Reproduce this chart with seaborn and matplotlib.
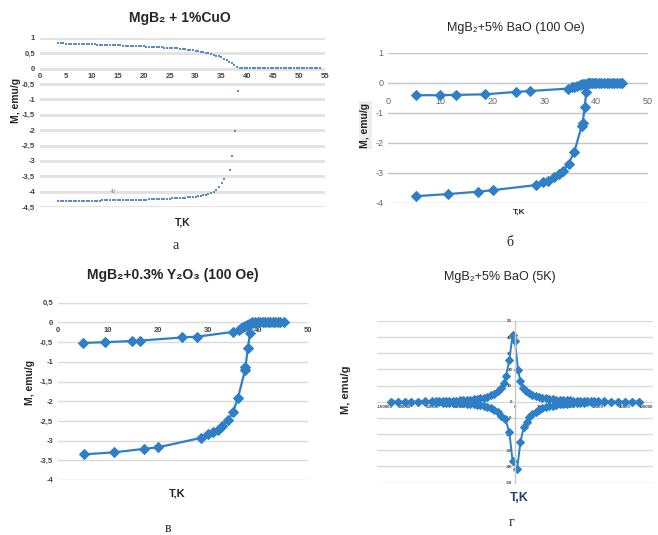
import matplotlib
matplotlib.use('Agg')
import matplotlib.pyplot as plt
import seaborn as sns

# ---- panel a: MgB2 + 1% CuO (FC / ZFC) ----
t_cuo_fc = [3.5, 4.0, 4.5, 5.0, 5.5, 6.0, 6.5, 7.0, 7.5, 8.0, 8.5, 9.0, 9.5, 10.0,
            10.5, 11.0, 11.5, 12.0, 12.5, 13.0, 13.5, 14.0, 14.5, 15.0, 15.5, 16.0,
            16.5, 17.0, 17.5, 18.0, 18.5, 19.0, 19.5, 20.0, 20.5, 21.0, 21.5, 22.0,
            22.5, 23.0, 23.5, 24.0, 24.5, 25.0, 25.5, 26.0, 26.5, 27.0, 27.5, 28.0,
            28.5, 29.0, 29.5, 30.0, 30.5, 31.0, 31.5, 32.0, 32.5, 33.0, 33.5, 34.0,
            34.5, 35.0, 35.5, 36.0, 36.5, 37.0, 37.5, 38.0, 38.5, 39.0, 39.5, 40.0,
            40.5, 41.0, 41.5, 42.0, 42.5, 43.0, 43.5, 44.0, 44.5, 45.0, 45.5, 46.0,
            46.5, 47.0, 47.5, 48.0, 48.5, 49.0, 49.5, 50.0, 50.5, 51.0, 51.5, 52.0,
            52.5, 53.0, 53.5, 54.0]
m_cuo_fc = [0.83, 0.83, 0.83, 0.82, 0.82, 0.82, 0.82, 0.81, 0.81, 0.80, 0.80, 0.80, 0.79, 0.79,
            0.79, 0.78, 0.78, 0.78, 0.77, 0.77, 0.77, 0.77, 0.76, 0.76, 0.76, 0.75,
            0.75, 0.75, 0.74, 0.74, 0.74, 0.73, 0.73, 0.73, 0.72, 0.72, 0.72, 0.71,
            0.71, 0.70, 0.70, 0.69, 0.69, 0.68, 0.68, 0.67, 0.66, 0.65, 0.64, 0.63,
            0.62, 0.61, 0.60, 0.59, 0.57, 0.56, 0.54, 0.52, 0.50, 0.48, 0.46, 0.43,
            0.40, 0.37, 0.33, 0.28, 0.23, 0.17, 0.11, 0.06, 0.03, 0.03, 0.03, 0.03,
            0.03, 0.03, 0.03, 0.03, 0.03, 0.03, 0.03, 0.03, 0.03, 0.03, 0.03, 0.03,
            0.03, 0.03, 0.03, 0.03, 0.03, 0.03, 0.03, 0.03, 0.03, 0.03, 0.03, 0.03,
            0.03, 0.03, 0.03, 0.03]
t_cuo_zfc = [3.5, 4.0, 4.5, 5.0, 5.5, 6.0, 6.5, 7.0, 7.5, 8.0, 8.5, 9.0, 9.5, 10.0,
             10.5, 11.0, 11.5, 12.0, 12.5, 13.0, 13.5, 14.0, 14.5, 15.0, 15.5, 16.0,
             16.5, 17.0, 17.5, 18.0, 18.5, 19.0, 19.5, 20.0, 20.5, 21.0, 21.5, 22.0,
             22.5, 23.0, 23.5, 24.0, 24.5, 25.0, 25.5, 26.0, 26.5, 27.0, 27.5, 28.0,
             28.5, 29.0, 29.5, 30.0, 30.5, 31.0, 31.5, 32.0, 32.5, 33.0, 33.5, 34.0,
             34.6, 35.2, 35.5, 36.6, 37.0, 37.6, 38.1]
m_cuo_zfc = [-4.30, -4.30, -4.30, -4.30, -4.30, -4.30, -4.30, -4.30, -4.30, -4.29, -4.29, -4.29, -4.29, -4.29,
             -4.29, -4.29, -4.29, -4.28, -4.28, -4.28, -4.28, -4.28, -4.28, -4.28, -4.27, -4.27,
             -4.27, -4.27, -4.27, -4.27, -4.26, -4.26, -4.26, -4.26, -4.26, -4.25, -4.25, -4.25,
             -4.25, -4.24, -4.24, -4.24, -4.23, -4.23, -4.22, -4.22, -4.21, -4.21, -4.20, -4.19,
             -4.18, -4.18, -4.17, -4.16, -4.15, -4.13, -4.12, -4.10, -4.08, -4.05, -4.01, -3.96,
             -3.86, -3.72, -3.58, -3.31, -2.83, -2.02, -0.73]

# ---- panel b: MgB2 + 5% BaO (100 Oe) ----
t_bao_fc = [5.3, 9.9, 13.0, 18.6, 24.6, 27.2, 34.6, 35.3, 35.8, 36.3, 36.8, 37.2, 37.6,
            38.0, 38.4, 38.8, 39.2, 39.6, 40.0, 40.5, 41.0, 41.5, 42.0, 42.5, 43.0,
            43.5, 44.0, 44.5, 45.0]
m_bao_fc = [-0.41, -0.41, -0.40, -0.38, -0.30, -0.27, -0.19, -0.15, -0.12, -0.09, -0.07, -0.05, -0.03,
            -0.02, -0.01, 0.0, 0.0, 0.0, 0.0, 0.0, 0.0, 0.0, 0.0, 0.0, 0.0,
            0.0, 0.0, 0.0, 0.0]
t_bao_zfc = [5.3, 11.5, 17.3, 20.1, 28.4, 29.8, 30.8, 31.9, 32.9, 33.7, 34.7, 35.8,
             37.2, 37.4, 37.8, 38.1, 38.6]
m_bao_zfc = [-3.78, -3.71, -3.63, -3.58, -3.41, -3.30, -3.28, -3.13, -3.04, -2.93, -2.69, -2.30,
             -1.45, -1.35, -0.80, -0.30, 0.0]

# ---- panel c: MgB2 + 0.3% Y2O3 (100 Oe) ----
t_y_fc = [5.0, 9.5, 14.9, 16.5, 24.9, 27.8, 35.0, 36.2, 36.6, 37.0, 37.4, 37.8, 38.2,
          38.6, 39.0, 39.5, 40.0, 40.5, 41.0, 41.5, 42.0, 42.5, 43.0, 43.5, 44.0,
          44.5, 45.3]
m_y_fc = [-0.52, -0.50, -0.47, -0.46, -0.38, -0.36, -0.24, -0.19, -0.15, -0.12, -0.09, -0.06, -0.04,
          -0.02, -0.01, 0.0, 0.0, 0.0, 0.0, 0.0, 0.0, 0.0, 0.0, 0.0, 0.0,
          0.0, 0.0]
t_y_zfc = [5.2, 11.3, 17.3, 20.1, 28.7, 30.0, 31.0, 32.0, 32.9, 34.0, 35.0, 36.0,
           37.4, 37.5, 38.0, 38.4, 38.9]
m_y_zfc = [-3.35, -3.30, -3.21, -3.17, -2.93, -2.83, -2.78, -2.73, -2.62, -2.49, -2.28, -1.92,
           -1.22, -1.12, -0.65, -0.27, 0.0]

# ---- panel d: MgB2 + 5% BaO (5 K), M(H) loop ----
h_down = [90000, 85000, 80000, 75000, 70000, 65000, 60000, 57500, 55000, 52500, 50000,
          47500, 45000, 42500, 40000, 37500, 35000, 32500, 30000, 27500, 25000, 22500,
          20000, 17500, 15000, 12500, 10000, 8000, 6000, 4000, 2400, 0, -1700, -4000,
          -6500, -8000, -10000, -12500, -15000, -17500, -20000, -22500, -25000, -27500,
          -30000, -32500, -35000, -37500, -40000, -42500, -45000, -47500, -50000, -52500,
          -55000, -57500, -60000, -65000, -70000, -75000, -80000, -85000, -90000]
m_down = [0.1, 0.1, 0.1, 0.1, 0.15, 0.2, 0.25, 0.3, 0.35, 0.4, 0.45,
          0.5, 0.6, 0.7, 0.8, 0.9, 1.0, 1.15, 1.3, 1.5, 1.8, 2.1,
          2.5, 3.0, 3.6, 4.4, 5.5, 6.8, 8.6, 12.6, 19.4, 37.8, 41.3, 26.0,
          15.7, 11.8, 8.5, 6.5, 5.0, 4.0, 3.2, 2.6, 2.1, 1.8,
          1.5, 1.3, 1.1, 0.95, 0.85, 0.75, 0.65, 0.55, 0.5, 0.45,
          0.4, 0.35, 0.3, 0.2, 0.15, 0.1, 0.1, 0.05, 0.05]
h_up = [-90000, -85000, -80000, -75000, -70000, -65000, -60000, -57500, -55000, -52500,
        -50000, -47500, -45000, -42500, -40000, -37500, -35000, -32500, -30000, -27500,
        -25000, -22500, -20000, -17500, -15000, -12500, -10000, -7000, -4000, -1700,
        1700, 4000, 6500, 8500, 10000, 12500, 15000, 17500, 20000, 22500, 25000, 27500,
        30000, 32500, 35000, 37500, 40000, 42500, 45000, 47500, 50000, 52500, 55000,
        57500, 60000, 65000, 70000, 75000, 80000, 85000, 90000]
m_up = [-0.05, -0.05, -0.1, -0.1, -0.15, -0.2, -0.3, -0.35, -0.4, -0.45,
        -0.5, -0.55, -0.65, -0.75, -0.85, -0.95, -1.1, -1.3, -1.5, -1.8,
        -2.1, -2.6, -3.2, -4.0, -5.0, -6.5, -8.8, -10.5, -19.0, -36.4,
        -41.3, -25.0, -15.5, -12.5, -9.5, -7.8, -6.2, -4.9, -4.0, -3.3, -2.7, -2.3,
        -1.9, -1.6, -1.3, -1.1, -0.9, -0.8, -0.7, -0.6, -0.5, -0.4, -0.35,
        -0.3, -0.25, -0.2, -0.15, -0.1, -0.1, -0.1, -0.1]

BLUE = '#2f7fc6'
DOT_BLUE = '#5a8cc6'
FONTS = ['Liberation Sans Narrow', 'Liberation Sans', 'DejaVu Sans']
SERIF = ['Liberation Serif', 'DejaVu Serif']

sns.set_style("white")
plt.rcParams['font.family'] = FONTS
plt.rcParams['axes.unicode_minus'] = False

fig = plt.figure(figsize=(6.58, 5.35), dpi=100)


def prep_axes(ax, xlim, ylim, xticks, yticks, ylabels, grid_color, grid_lw, tick_fs, xpad,
              yaxis_at_zero=False):
    ax.set_xlim(*xlim)
    ax.set_ylim(*ylim)
    for s in ['top', 'right', 'left', 'bottom']:
        ax.spines[s].set_visible(False)
    # axes cross at zero like the Excel charts (set before the tick labels,
    # moving a spine resets them)
    ax.spines['bottom'].set_position(('data', 0))
    if yaxis_at_zero:
        ax.spines['left'].set_position(('data', 0))
        ax.spines['left'].set_visible(True)
        ax.spines['left'].set_color('#c8c8c8')
        ax.spines['left'].set_linewidth(1.0)
    ax.set_xticks(xticks)
    ax.set_xticklabels([str(v) for v in xticks], fontsize=tick_fs, fontweight='bold', color='#444444')
    ax.set_yticks(yticks)
    ax.set_yticklabels(ylabels, fontsize=tick_fs, fontweight='bold', color='#444444')
    ax.tick_params(length=0)
    ax.tick_params(axis='x', pad=xpad)
    ax.yaxis.grid(True, color=grid_color, linewidth=grid_lw)
    ax.xaxis.grid(False)
    ax.set_axisbelow(True)
    ax.set_xlabel('')
    ax.set_ylabel('')


# ---------- a ----------
ax_a = fig.add_axes([0.061, 0.613, 0.433, 0.316])
sns.scatterplot(x=t_cuo_fc, y=m_cuo_fc, ax=ax_a, marker='s', s=3, color=DOT_BLUE, linewidth=0)
sns.scatterplot(x=t_cuo_zfc, y=m_cuo_zfc, ax=ax_a, marker='s', s=3, color=DOT_BLUE, linewidth=0)
ya = [1, 0.5, 0, -0.5, -1, -1.5, -2, -2.5, -3, -3.5, -4, -4.5]
prep_axes(ax_a, (0, 55), (-4.5, 1), list(range(0, 56, 5)), ya,
          ['1', '0,5', '0', '-0,5', '-1', '-1,5', '-2', '-2,5', '-3', '-3,5', '-4', '-4,5'],
          '#e3e3e3', 2.2, 5.5, 3)
ax_a.text(13.5, -4.05, '40', color='#e07070', fontsize=4)
fig.text(0.274, 0.966, 'MgB₂ + 1%CuO', ha='center', va='center', fontsize=10, fontweight='bold')
fig.text(0.024, 0.813, 'M, emu/g', rotation=90, ha='center', va='center', fontsize=7.5, fontweight='bold')
fig.text(0.278, 0.585, 'T,K', ha='center', va='center', fontsize=7.5, fontweight='bold')
fig.text(0.2675, 0.542, 'а', ha='center', va='center', fontsize=10, family=SERIF)

# ---------- b ----------
ax_b = fig.add_axes([0.590, 0.621, 0.395, 0.280])
sns.lineplot(x=t_bao_fc, y=m_bao_fc, ax=ax_b, sort=False, estimator=None, marker='D',
             markersize=5, color=BLUE, markeredgecolor=BLUE, linewidth=1.6)
sns.lineplot(x=t_bao_zfc, y=m_bao_zfc, ax=ax_b, sort=False, estimator=None, marker='D',
             markersize=5, color=BLUE, markeredgecolor=BLUE, linewidth=1.6)
prep_axes(ax_b, (0, 50), (-4, 1), [0, 10, 20, 30, 40, 50], [1, 0, -1, -2, -3, -4],
          ['1', '0', '-1', '-2', '-3', '-4'], '#c4c4c4', 1.0, 6.5, 10)
for lab in ax_b.get_xticklabels() + ax_b.get_yticklabels():
    lab.set_fontweight('normal')
    lab.set_color('#666666')
fig.text(0.784, 0.948, 'MgB₂+5% BaO (100 Oe)', ha='center', va='center', fontsize=9)
fig.text(0.555, 0.766, 'M, emu/g', rotation=90, ha='center', va='center', fontsize=7.5,
         fontweight='bold', bbox=dict(facecolor='#ececec', edgecolor='none', pad=1))
fig.text(0.789, 0.604, 'T,K', ha='center', va='center', fontsize=6, fontweight='bold')
fig.text(0.775, 0.546, 'б', ha='center', va='center', fontsize=10, family=SERIF)

# ---------- c ----------
ax_c = fig.add_axes([0.088, 0.103, 0.380, 0.331])
sns.lineplot(x=t_y_fc, y=m_y_fc, ax=ax_c, sort=False, estimator=None, marker='D',
             markersize=5, color=BLUE, markeredgecolor=BLUE, linewidth=1.6)
sns.lineplot(x=t_y_zfc, y=m_y_zfc, ax=ax_c, sort=False, estimator=None, marker='D',
             markersize=5, color=BLUE, markeredgecolor=BLUE, linewidth=1.6)
yc = [0.5, 0, -0.5, -1, -1.5, -2, -2.5, -3, -3.5, -4]
prep_axes(ax_c, (0, 50), (-4, 0.5), [0, 10, 20, 30, 40, 50], yc,
          ['0,5', '0', '-0,5', '-1', '-1,5', '-2', '-2,5', '-3', '-3,5', '-4'],
          '#dadada', 1.0, 5.5, 3)
fig.text(0.262, 0.486, 'MgB₂+0.3% Y₂O₃ (100 Oe)', ha='center', va='center', fontsize=10, fontweight='bold')
fig.text(0.046, 0.286, 'M, emu/g', rotation=90, ha='center', va='center', fontsize=7.5, fontweight='bold')
fig.text(0.27, 0.077, 'T,K', ha='center', va='center', fontsize=8, fontweight='bold')
fig.text(0.255, 0.012, 'в', ha='center', va='center', fontsize=10, family=SERIF)

# ---------- d ----------
ax_d = fig.add_axes([0.573, 0.098, 0.419, 0.302])
sns.lineplot(x=h_down, y=m_down, ax=ax_d, sort=False, estimator=None, marker='D',
             markersize=4, color=BLUE, markeredgecolor=BLUE, linewidth=1.4)
sns.lineplot(x=h_up, y=m_up, ax=ax_d, sort=False, estimator=None, marker='D',
             markersize=4, color=BLUE, markeredgecolor=BLUE, linewidth=1.4)
hx = list(range(-100000, 100001, 20000))
prep_axes(ax_d, (-100000, 100000), (-50, 50), hx, list(range(-50, 51, 10)),
          [str(v) for v in range(-50, 51, 10)], '#dadada', 1.0, 3.2, 2, yaxis_at_zero=True)
ax_d.tick_params(axis='y', pad=2)
xl = ax_d.get_xticklabels()
xl[0].set_horizontalalignment('left')
xl[-1].set_horizontalalignment('right')
fig.text(0.760, 0.482, 'MgB₂+5% BaO (5K)', ha='center', va='center', fontsize=9)
fig.text(0.526, 0.271, 'M, emu/g', rotation=90, ha='center', va='center', fontsize=8, fontweight='bold')
fig.text(0.789, 0.069, 'T,K', ha='center', va='center', fontsize=9, fontweight='bold', color='#1f3f6f')
fig.text(0.778, 0.024, 'г', ha='center', va='center', fontsize=10, family=SERIF)

fig.savefig('out.png', dpi=100)
